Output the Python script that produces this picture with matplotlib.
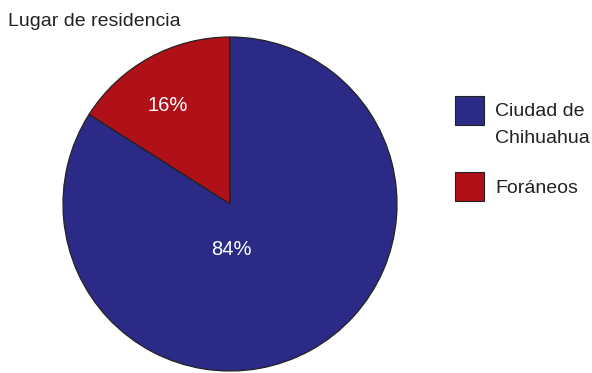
import matplotlib.pyplot as plt
from matplotlib.patches import Rectangle

plt.rcParams['font.family'] = ['Liberation Sans', 'DejaVu Sans']

# Lugar de residencia de los participantes
categorias = ['Foráneos', 'Ciudad de\nChihuahua']
porcentajes = [16, 84]
colores = ['#b01118', '#2b2a86']

W, H = 592, 373
fig = plt.figure(figsize=(W/100, H/100), dpi=100)
ax = fig.add_axes([63/W, 2/H, 334/W, 334/H])

wedges, _ = ax.pie(porcentajes, colors=colores, startangle=90, counterclock=True,
                   wedgeprops=dict(edgecolor='#222222', linewidth=0.9))
ax.set_xlim(-1, 1)
ax.set_ylim(-1, 1)
ax.set_aspect('equal')

# etiquetas de porcentaje dentro de cada sector
ax.text(-0.375, 0.59, f'{porcentajes[0]}%', color='white', fontsize=14.5,
        ha='center', va='center')
ax.text(0.01, -0.27, f'{porcentajes[1]}%', color='white', fontsize=14.5,
        ha='center', va='center')

fig.text(8/W, 1 - 26/H, 'Lugar de residencia', fontsize=14,
         ha='left', va='baseline', color='#222222')

# leyenda hecha a mano: ciudad arriba, foráneos abajo
orden = [1, 0]
cajas_y = [96, 172]
bases_y = [116, 193]
for i, yc, yb in zip(orden, cajas_y, bases_y):
    fig.add_artist(Rectangle((455/W, 1 - (yc + 29)/H), 29/W, 29/H,
                             transform=fig.transFigure, facecolor=colores[i],
                             edgecolor='#222222', linewidth=0.8))
    lineas = categorias[i].split('\n')
    for k, linea in enumerate(lineas):
        fig.text(495/W, 1 - (yb + 27.5*k)/H, linea, fontsize=14,
                 ha='left', va='baseline', color='#222222')

fig.savefig('out.png', dpi=100)
